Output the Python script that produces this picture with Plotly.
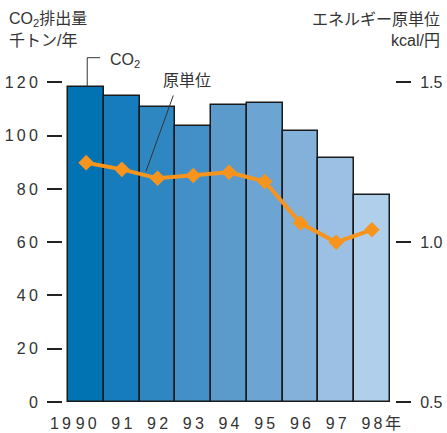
import plotly.graph_objects as go

# Fiscal years (1990-1998) and the two series
years = ["90", "91", "92", "93", "94", "95", "96", "97", "98"]
co2_emissions = [118.2, 114.9, 110.7, 103.7, 111.4, 112.2, 101.7, 91.6, 77.9]   # 千トン/年
energy_intensity = [1.249, 1.228, 1.200, 1.209, 1.219, 1.190, 1.060, 1.000, 1.039]  # kcal/円

left_ticks = [0, 20, 40, 60, 80, 100, 120]
right_ticks = [0.5, 1.0, 1.5]

bar_colors = ["#0173b3", "#177cbd", "#2f87c2", "#4290c7", "#5b9bcb",
              "#6ca5d3", "#84b1d9", "#9bc0e3", "#b0cfeb"]

FONT = "Liberation Sans, Arial, Noto Sans CJK JP, sans-serif"
TXT = "#333333"
ORANGE = "#f7941d"
THIN = "\u2009"

x = list(range(len(years)))
Y_TOP = 139.7
x_range = [-0.648, 8.647]

fig = go.Figure()
fig.add_trace(go.Bar(
    x=x, y=co2_emissions, width=1.0,
    marker=dict(color=bar_colors, line=dict(color="#1a1a1a", width=1.5)),
    hoverinfo="y", showlegend=False,
))
fig.add_trace(go.Scatter(
    x=x, y=energy_intensity, yaxis="y2", mode="lines+markers",
    line=dict(color=ORANGE, width=4),
    marker=dict(symbol="diamond", size=12, color=ORANGE),
    showlegend=False,
))

fig.update_layout(
    width=447, height=433,
    margin=dict(l=63, r=52, t=30, b=31),
    paper_bgcolor="white", plot_bgcolor="white",
    bargap=0,
    font=dict(family=FONT, size=16, color=TXT),
    xaxis=dict(
        range=x_range, tickvals=x,
        ticktext=[THIN.join(y) for y in years],
        ticks="", showline=False, showgrid=False, zeroline=False,
        ticklabelstandoff=10, automargin=False,
        tickfont=dict(family=FONT, size=16, color=TXT),
    ),
    yaxis=dict(
        range=[0, Y_TOP], tickvals=left_ticks,
        ticktext=[THIN.join(str(v)) for v in left_ticks],
        ticks="outside", ticklen=15, tickwidth=1.5, tickcolor="#222222",
        showline=False, showgrid=False, zeroline=False,
        ticklabelstandoff=6, automargin=False,
        tickfont=dict(family=FONT, size=16, color=TXT),
    ),
    yaxis2=dict(
        overlaying="y", side="right",
        range=[0.5, 0.5 + Y_TOP / 120], tickvals=right_ticks,
        ticktext=[f"{v:.1f}" for v in right_ticks],
        ticks="outside", ticklen=15, tickwidth=1.5, tickcolor="#222222",
        showline=False, showgrid=False, zeroline=False,
        ticklabelstandoff=6, automargin=False,
        tickfont=dict(family=FONT, size=16, color=TXT),
    ),
)

annotations = [
    # axis titles
    dict(text="CO<sub>2</sub>排出量", xref="paper", yref="paper", x=-0.169, y=1.028,
         xanchor="left", yanchor="middle", showarrow=False),
    dict(text="千トン/年", xref="paper", yref="paper", x=-0.169, y=0.973,
         xanchor="left", yanchor="middle", showarrow=False),
    dict(text="エネルギー原単位", xref="paper", yref="paper", x=1.142, y=1.028,
         xanchor="right", yanchor="middle", showarrow=False),
    dict(text="kcal/円", xref="paper", yref="paper", x=1.142, y=0.973,
         xanchor="right", yanchor="middle", showarrow=False),
    # year prefix / suffix around the tick labels
    dict(text="1" + THIN + "9" + THIN, xref="x", yref="paper", x=0, y=-0.059,
         xanchor="right", yanchor="middle", xshift=-10, showarrow=False),
    dict(text="年", xref="x", yref="paper", x=8, y=-0.059,
         xanchor="left", yanchor="middle", xshift=11, showarrow=False),
    # series callouts
    dict(text="CO<sub>2</sub>", xref="x", yref="y", x=0.61, y=128.3,
         xanchor="left", yanchor="middle", showarrow=False),
    dict(text="原単位", xref="x", yref="y", x=2.81, y=120.8,
         xanchor="center", yanchor="middle", showarrow=False),
]
fig.update_layout(annotations=annotations)

leader = dict(color="#333333", width=1)
fig.add_shape(type="line", xref="x", yref="y", x0=0.03, y0=co2_emissions[0], x1=0.03, y1=129.3, line=leader)
fig.add_shape(type="line", xref="x", yref="y", x0=0.03, y1=129.3, x1=0.39, y0=129.3, line=leader)
fig.add_shape(type="line", xref="x", yref="y", x0=2.44, y0=115.1, x1=1.674, y1=86.6, line=leader)

fig.write_html("out.html")
